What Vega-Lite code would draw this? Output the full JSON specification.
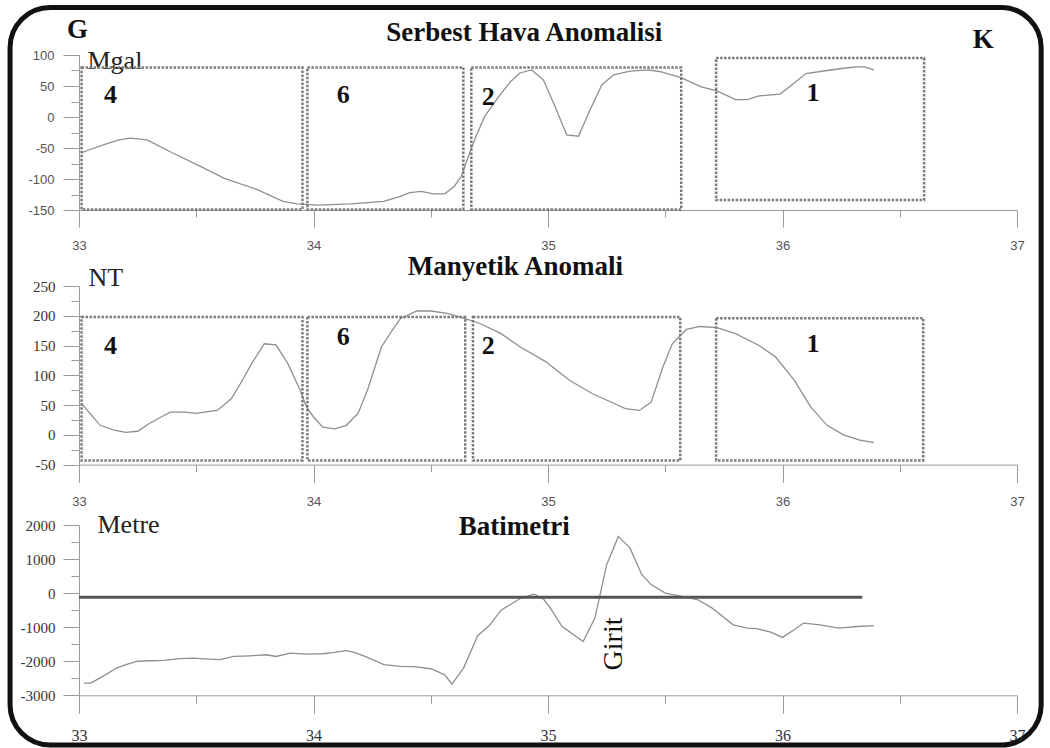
{
  "$schema": "https://vega.github.io/schema/vega-lite/v6.json",
  "background": "white",
  "padding": {"left": 7, "top": 5, "right": 6.5, "bottom": 0.5},
  "autosize": {"type": "pad"},
  "config": {
    "view": {"stroke": null},
    "axis": {"grid": false, "domainColor": "#9a9a9a", "tickColor": "#9a9a9a", "domainWidth": 1, "tickWidth": 1, "labelOverlap": false, "labelFlush": false}
  },
  "datasets": {
    "fa": [
      {"lon": 33.01, "val": -58}, {"lon": 33.05, "val": -52}, {"lon": 33.12, "val": -43}, {"lon": 33.17, "val": -37},
      {"lon": 33.22, "val": -34}, {"lon": 33.29, "val": -37}, {"lon": 33.40, "val": -58}, {"lon": 33.52, "val": -80},
      {"lon": 33.62, "val": -99}, {"lon": 33.76, "val": -117}, {"lon": 33.87, "val": -136}, {"lon": 33.93, "val": -140},
      {"lon": 34.02, "val": -142}, {"lon": 34.16, "val": -140}, {"lon": 34.30, "val": -136}, {"lon": 34.37, "val": -128},
      {"lon": 34.41, "val": -122}, {"lon": 34.46, "val": -120}, {"lon": 34.51, "val": -124}, {"lon": 34.56, "val": -124},
      {"lon": 34.60, "val": -112}, {"lon": 34.63, "val": -96}, {"lon": 34.66, "val": -64}, {"lon": 34.69, "val": -34},
      {"lon": 34.73, "val": 1}, {"lon": 34.79, "val": 33}, {"lon": 34.84, "val": 57}, {"lon": 34.88, "val": 71},
      {"lon": 34.93, "val": 76}, {"lon": 34.98, "val": 60}, {"lon": 35.03, "val": 17}, {"lon": 35.08, "val": -29},
      {"lon": 35.13, "val": -31}, {"lon": 35.18, "val": 12}, {"lon": 35.23, "val": 52}, {"lon": 35.28, "val": 68},
      {"lon": 35.35, "val": 74}, {"lon": 35.43, "val": 76}, {"lon": 35.48, "val": 73}, {"lon": 35.57, "val": 63},
      {"lon": 35.65, "val": 49}, {"lon": 35.72, "val": 42}, {"lon": 35.80, "val": 28}, {"lon": 35.85, "val": 28},
      {"lon": 35.90, "val": 34}, {"lon": 35.99, "val": 37}, {"lon": 36.05, "val": 55}, {"lon": 36.10, "val": 70},
      {"lon": 36.19, "val": 75}, {"lon": 36.27, "val": 79}, {"lon": 36.32, "val": 81}, {"lon": 36.35, "val": 81},
      {"lon": 36.39, "val": 76}
    ],
    "mag": [
      {"lon": 33.01, "val": 53}, {"lon": 33.09, "val": 16}, {"lon": 33.15, "val": 8}, {"lon": 33.20, "val": 4},
      {"lon": 33.25, "val": 6}, {"lon": 33.30, "val": 19}, {"lon": 33.35, "val": 30}, {"lon": 33.39, "val": 38},
      {"lon": 33.45, "val": 38}, {"lon": 33.50, "val": 36}, {"lon": 33.55, "val": 39}, {"lon": 33.59, "val": 41},
      {"lon": 33.65, "val": 61}, {"lon": 33.69, "val": 87}, {"lon": 33.74, "val": 122}, {"lon": 33.79, "val": 153},
      {"lon": 33.84, "val": 151}, {"lon": 33.89, "val": 120}, {"lon": 33.94, "val": 78}, {"lon": 33.97, "val": 47},
      {"lon": 34.00, "val": 30}, {"lon": 34.04, "val": 13}, {"lon": 34.09, "val": 10}, {"lon": 34.14, "val": 16},
      {"lon": 34.19, "val": 36}, {"lon": 34.23, "val": 75}, {"lon": 34.29, "val": 148}, {"lon": 34.34, "val": 178},
      {"lon": 34.37, "val": 195}, {"lon": 34.44, "val": 208}, {"lon": 34.50, "val": 208}, {"lon": 34.57, "val": 204},
      {"lon": 34.64, "val": 196}, {"lon": 34.71, "val": 187}, {"lon": 34.80, "val": 170}, {"lon": 34.88, "val": 148},
      {"lon": 34.99, "val": 123}, {"lon": 35.09, "val": 92}, {"lon": 35.19, "val": 69}, {"lon": 35.28, "val": 53},
      {"lon": 35.33, "val": 44}, {"lon": 35.39, "val": 41}, {"lon": 35.44, "val": 55}, {"lon": 35.49, "val": 114},
      {"lon": 35.53, "val": 153}, {"lon": 35.59, "val": 177}, {"lon": 35.65, "val": 182}, {"lon": 35.72, "val": 180},
      {"lon": 35.80, "val": 170}, {"lon": 35.90, "val": 150}, {"lon": 35.97, "val": 131}, {"lon": 36.05, "val": 92},
      {"lon": 36.12, "val": 47}, {"lon": 36.19, "val": 16}, {"lon": 36.26, "val": 0}, {"lon": 36.33, "val": -9},
      {"lon": 36.39, "val": -13}
    ],
    "bat": [
      {"lon": 33.02, "val": -2640}, {"lon": 33.05, "val": -2640}, {"lon": 33.10, "val": -2450}, {"lon": 33.16, "val": -2200},
      {"lon": 33.20, "val": -2100}, {"lon": 33.25, "val": -2000}, {"lon": 33.30, "val": -1985}, {"lon": 33.36, "val": -1975},
      {"lon": 33.43, "val": -1925}, {"lon": 33.49, "val": -1910}, {"lon": 33.55, "val": -1935}, {"lon": 33.60, "val": -1955},
      {"lon": 33.66, "val": -1860}, {"lon": 33.73, "val": -1840}, {"lon": 33.80, "val": -1810}, {"lon": 33.84, "val": -1860},
      {"lon": 33.90, "val": -1760}, {"lon": 33.97, "val": -1790}, {"lon": 34.04, "val": -1780}, {"lon": 34.09, "val": -1740},
      {"lon": 34.14, "val": -1690}, {"lon": 34.17, "val": -1730}, {"lon": 34.22, "val": -1860}, {"lon": 34.30, "val": -2100},
      {"lon": 34.37, "val": -2150}, {"lon": 34.43, "val": -2160}, {"lon": 34.50, "val": -2220}, {"lon": 34.56, "val": -2400},
      {"lon": 34.59, "val": -2670}, {"lon": 34.64, "val": -2200}, {"lon": 34.70, "val": -1250}, {"lon": 34.75, "val": -950},
      {"lon": 34.80, "val": -500}, {"lon": 34.88, "val": -165}, {"lon": 34.94, "val": -30}, {"lon": 34.98, "val": -165},
      {"lon": 35.01, "val": -440}, {"lon": 35.06, "val": -980}, {"lon": 35.15, "val": -1420}, {"lon": 35.20, "val": -735},
      {"lon": 35.25, "val": 830}, {"lon": 35.30, "val": 1665}, {"lon": 35.35, "val": 1320}, {"lon": 35.40, "val": 540},
      {"lon": 35.44, "val": 250}, {"lon": 35.50, "val": 0}, {"lon": 35.57, "val": -95}, {"lon": 35.64, "val": -195},
      {"lon": 35.70, "val": -440}, {"lon": 35.79, "val": -930}, {"lon": 35.85, "val": -1030}, {"lon": 35.89, "val": -1045},
      {"lon": 35.95, "val": -1145}, {"lon": 36.00, "val": -1300}, {"lon": 36.05, "val": -1075}, {"lon": 36.09, "val": -880},
      {"lon": 36.16, "val": -930}, {"lon": 36.24, "val": -1030}, {"lon": 36.32, "val": -980}, {"lon": 36.39, "val": -955}
    ],
    "boxes1": [
      {"lon1": 33.011, "lon2": 33.953, "top": 80, "bot": -149},
      {"lon1": 33.974, "lon2": 34.639, "top": 80, "bot": -149},
      {"lon1": 34.673, "lon2": 35.568, "top": 80, "bot": -149},
      {"lon1": 35.717, "lon2": 36.604, "top": 95, "bot": -134}
    ],
    "labels1": [
      {"lon": 33.134, "val": 35, "text": "4"},
      {"lon": 34.127, "val": 35, "text": "6"},
      {"lon": 34.745, "val": 32, "text": "2"},
      {"lon": 36.13, "val": 38, "text": "1"}
    ],
    "heads1": [
      {"lon": 32.994, "val": 127, "text": "G"},
      {"lon": 36.856, "val": 111, "text": "K"},
      {"lon": 34.899, "val": 122.6, "text": "Serbest Hava Anomalisi"}
    ],
    "boxes2": [
      {"lon1": 33.011, "lon2": 33.953, "top": 198, "bot": -43},
      {"lon1": 33.974, "lon2": 34.647, "top": 198, "bot": -43},
      {"lon1": 34.68, "lon2": 35.564, "top": 198, "bot": -43},
      {"lon1": 35.717, "lon2": 36.60, "top": 196, "bot": -43}
    ],
    "labels2": [
      {"lon": 33.134, "val": 149, "text": "4"},
      {"lon": 34.127, "val": 164, "text": "6"},
      {"lon": 34.745, "val": 150, "text": "2"},
      {"lon": 36.13, "val": 152, "text": "1"}
    ],
    "heads2": [{"lon": 34.861, "val": 269, "text": "Manyetik Anomali"}],
    "heads3": [{"lon": 34.856, "val": 1700, "text": "Batimetri"}],
    "sea": [{"lon1": 33, "lon2": 36.34, "val": -120}],
    "island": [{"lon": 35.28, "val": -1494, "text": "Girit"}]
  },
  "bounds": "flush",
  "spacing": 76,
  "vconcat": [
    {
      "width": 938,
      "height": 155,
      "resolve": {"axis": {"x": "independent", "y": "independent"}},
      "layer": [
        {
          "data": {"name": "fa"},
          "mark": {"type": "line", "color": "#8f8f8f", "strokeWidth": 1.3},
          "encoding": {
            "x": {"field": "lon", "type": "quantitative", "scale": {"domain": [33, 37], "nice": false, "zero": false},
              "axis": {"orient": "bottom", "title": null, "values": [33, 34, 35, 36, 37], "labelExpr": "'' + datum.value",
                "tickSize": 17, "labelPadding": 12, "labelOverlap": false, "labelFlush": false,
                "labelFont": "Liberation Sans", "labelFontSize": 13, "labelColor": "#555"}},
            "y": {"field": "val", "type": "quantitative", "scale": {"domain": [-150, 100], "nice": false, "zero": false},
              "axis": {"orient": "left", "title": "Mgal", "titleAngle": 0, "titleX": 8, "titleY": 13, "titleAlign": "left", "titleBaseline": "alphabetic",
                "titleFont": "Liberation Serif", "titleFontSize": 26, "titleFontWeight": "normal", "titleColor": "#222",
                "values": [-150, -100, -50, 0, 50, 100], "labelExpr": "'' + datum.value",
                "tickSize": 16, "labelPadding": 9, "labelOverlap": false, "labelFlush": false,
                "labelFont": "Liberation Sans", "labelFontSize": 13, "labelColor": "#555"}}
          }
        },
        {
          "data": {"name": "boxes1"},
          "mark": {"type": "rect", "fill": null, "stroke": "#7a7a7a", "strokeWidth": 2.5, "strokeDash": [2.5, 1.5]},
          "encoding": {
            "x": {"field": "lon1", "type": "quantitative", "axis": {"orient": "bottom", "title": null, "values": [33.5, 34.5, 35.5, 36.5], "labels": false, "domain": false, "tickSize": 7}},
            "x2": {"field": "lon2"},
            "y": {"field": "top", "type": "quantitative", "axis": {"orient": "left", "title": null, "values": [-125, -75, -25, 25, 75], "labels": false, "domain": false, "tickSize": 8}},
            "y2": {"field": "bot"}
          }
        },
        {
          "data": {"name": "labels1"},
          "mark": {"type": "text", "font": "Liberation Serif", "fontSize": 26, "fontWeight": "bold", "color": "#111", "baseline": "middle", "align": "center"},
          "encoding": {"x": {"field": "lon", "type": "quantitative", "axis": null}, "y": {"field": "val", "type": "quantitative", "axis": null}, "text": {"field": "text"}}
        },
        {
          "data": {"name": "heads1"},
          "mark": {"type": "text", "font": "Liberation Serif", "fontSize": 27, "fontWeight": "bold", "color": "#111", "baseline": "alphabetic", "align": "center"},
          "encoding": {"x": {"field": "lon", "type": "quantitative", "axis": null}, "y": {"field": "val", "type": "quantitative", "axis": null}, "text": {"field": "text"}}
        },
        {
          "data": {"values": [{}]},
          "mark": {"type": "rect", "fill": null, "stroke": "#111", "strokeWidth": 5, "cornerRadius": 40},
          "encoding": {
            "x": {"datum": 32.706, "type": "quantitative", "axis": null}, "x2": {"datum": 37.103},
            "y": {"datum": 176.6, "type": "quantitative", "axis": null}, "y2": {"datum": -1012.9}
          }
        }
      ]
    },
    {
      "bounds": "flush",
      "spacing": 60,
      "vconcat": [
        {
          "width": 938,
          "height": 178.6,
          "resolve": {"axis": {"x": "independent", "y": "independent"}},
          "layer": [
            {
              "data": {"name": "mag"},
              "mark": {"type": "line", "color": "#8f8f8f", "strokeWidth": 1.3},
              "encoding": {
                "x": {"field": "lon", "type": "quantitative", "scale": {"domain": [33, 37], "nice": false, "zero": false},
                  "axis": {"orient": "bottom", "title": null, "values": [33, 34, 35, 36, 37], "labelExpr": "'' + datum.value",
                    "tickSize": 18, "labelPadding": 13, "labelOverlap": false, "labelFlush": false,
                    "labelFont": "Liberation Sans", "labelFontSize": 13, "labelColor": "#555"}},
                "y": {"field": "val", "type": "quantitative", "scale": {"domain": [-50, 250], "nice": false, "zero": false},
                  "axis": {"orient": "left", "title": "NT", "titleAngle": 0, "titleX": 9, "titleY": -1, "titleAlign": "left", "titleBaseline": "alphabetic",
                    "titleFont": "Liberation Serif", "titleFontSize": 26, "titleFontWeight": "normal", "titleColor": "#222",
                    "values": [-50, 0, 50, 100, 150, 200, 250], "labelExpr": "'' + datum.value",
                    "tickSize": 16, "labelPadding": 8, "labelOverlap": false, "labelFlush": false,
                    "labelFont": "Liberation Serif", "labelFontSize": 15, "labelColor": "#333"}}
              }
            },
            {
              "data": {"name": "boxes2"},
              "mark": {"type": "rect", "fill": null, "stroke": "#7a7a7a", "strokeWidth": 2.5, "strokeDash": [2.5, 1.5]},
              "encoding": {
                "x": {"field": "lon1", "type": "quantitative", "axis": {"orient": "bottom", "title": null, "values": [33.5, 34.5, 35.5, 36.5], "labels": false, "domain": false, "tickSize": 7}},
                "x2": {"field": "lon2"},
                "y": {"field": "top", "type": "quantitative", "axis": {"orient": "left", "title": null, "values": [-25, 25, 75, 125, 175, 225], "labels": false, "domain": false, "tickSize": 8}},
                "y2": {"field": "bot"}
              }
            },
            {
              "data": {"name": "labels2"},
              "mark": {"type": "text", "font": "Liberation Serif", "fontSize": 26, "fontWeight": "bold", "color": "#111", "baseline": "middle", "align": "center"},
              "encoding": {"x": {"field": "lon", "type": "quantitative", "axis": null}, "y": {"field": "val", "type": "quantitative", "axis": null}, "text": {"field": "text"}}
            },
            {
              "data": {"name": "heads2"},
              "mark": {"type": "text", "font": "Liberation Serif", "fontSize": 27, "fontWeight": "bold", "color": "#111", "baseline": "alphabetic", "align": "center"},
              "encoding": {"x": {"field": "lon", "type": "quantitative", "axis": null}, "y": {"field": "val", "type": "quantitative", "axis": null}, "text": {"field": "text"}}
            }
          ]
        },
        {
          "width": 938,
          "height": 170.3,
          "resolve": {"axis": {"x": "independent", "y": "independent"}},
          "layer": [
            {
              "data": {"name": "bat"},
              "mark": {"type": "line", "color": "#8f8f8f", "strokeWidth": 1.3},
              "encoding": {
                "x": {"field": "lon", "type": "quantitative", "scale": {"domain": [33, 37], "nice": false, "zero": false},
                  "axis": {"orient": "bottom", "title": null, "values": [33, 34, 35, 36, 37], "labelExpr": "'' + datum.value",
                    "tickSize": 18, "labelPadding": 14, "labelOverlap": false, "labelFlush": false,
                    "labelFont": "Liberation Serif", "labelFontSize": 16, "labelColor": "#333"}},
                "y": {"field": "val", "type": "quantitative", "scale": {"domain": [-3000, 2000], "nice": false, "zero": false},
                  "axis": {"orient": "left", "title": "Metre", "titleAngle": 0, "titleX": 18, "titleY": 7, "titleAlign": "left", "titleBaseline": "alphabetic",
                    "titleFont": "Liberation Serif", "titleFontSize": 26, "titleFontWeight": "normal", "titleColor": "#222",
                    "values": [-3000, -2000, -1000, 0, 1000, 2000], "labelExpr": "'' + datum.value",
                    "tickSize": 16, "labelPadding": 8, "labelOverlap": false, "labelFlush": false,
                    "labelFont": "Liberation Serif", "labelFontSize": 15, "labelColor": "#333"}}
              }
            },
            {
              "data": {"name": "sea"},
              "mark": {"type": "rule", "color": "#555", "strokeWidth": 3},
              "encoding": {
                "x": {"field": "lon1", "type": "quantitative", "axis": {"orient": "bottom", "title": null, "values": [33.5, 34.5, 35.5, 36.5], "labels": false, "domain": false, "tickSize": 8}},
                "x2": {"field": "lon2"},
                "y": {"field": "val", "type": "quantitative", "axis": {"orient": "left", "title": null, "values": [-2500, -1500, -500, 500, 1500], "labels": false, "domain": false, "tickSize": 8}}
              }
            },
            {
              "data": {"name": "island"},
              "mark": {"type": "text", "font": "Liberation Serif", "fontSize": 28, "color": "#111", "angle": 270, "baseline": "middle", "align": "center"},
              "encoding": {"x": {"field": "lon", "type": "quantitative", "axis": null}, "y": {"field": "val", "type": "quantitative", "axis": null}, "text": {"field": "text"}}
            },
            {
              "data": {"name": "heads3"},
              "mark": {"type": "text", "font": "Liberation Serif", "fontSize": 27, "fontWeight": "bold", "color": "#111", "baseline": "alphabetic", "align": "center"},
              "encoding": {"x": {"field": "lon", "type": "quantitative", "axis": null}, "y": {"field": "val", "type": "quantitative", "axis": null}, "text": {"field": "text"}}
            }
          ]
        }
      ]
    }
  ]
}
